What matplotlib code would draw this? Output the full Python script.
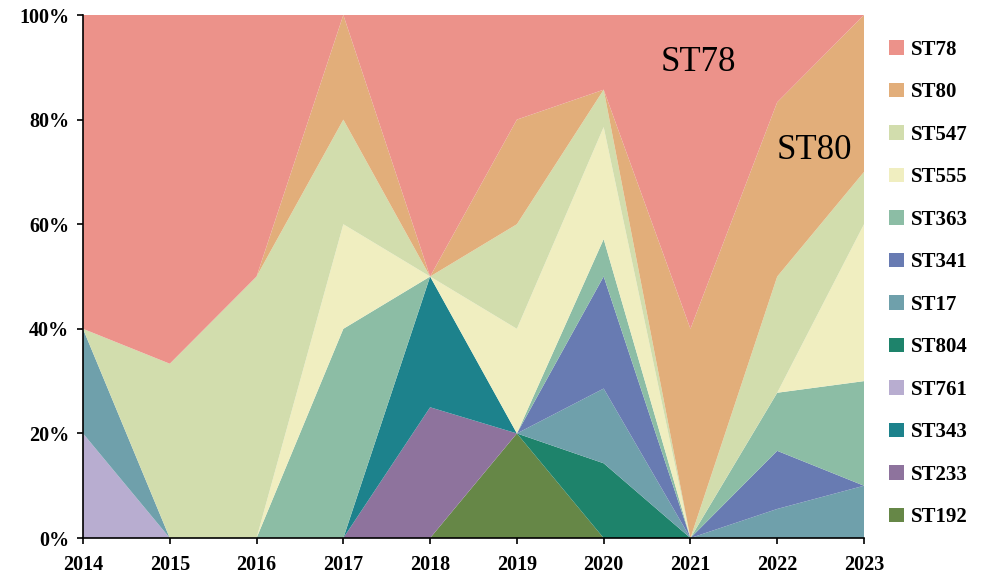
import matplotlib
matplotlib.use("Agg")
import matplotlib.pyplot as plt
import numpy as np
from matplotlib.patches import Patch

years = [2014, 2015, 2016, 2017, 2018, 2019, 2020, 2021, 2022, 2023]

# percentages per sequence type (bottom to top of the stack)
ST192 = [0, 0, 0, 0, 0, 20, 0, 0, 0, 0]
ST233 = [0, 0, 0, 0, 25, 0, 0, 0, 0, 0]
ST343 = [0, 0, 0, 0, 25, 0, 0, 0, 0, 0]
ST761 = [20, 0, 0, 0, 0, 0, 0, 0, 0, 0]
ST804 = [0, 0, 0, 0, 0, 0, 14.29, 0, 0, 0]
ST17 = [20, 0, 0, 0, 0, 0, 14.29, 0, 5.56, 10]
ST341 = [0, 0, 0, 0, 0, 0, 21.43, 0, 11.11, 0]
ST363 = [0, 0, 0, 40, 0, 0, 7.14, 0, 11.11, 20]
ST555 = [0, 0, 0, 20, 0, 20, 21.43, 0, 0, 30]
ST547 = [0, 33.33, 50, 20, 0, 20, 7.14, 0, 22.22, 10]
ST80 = [0, 0, 0, 20, 0, 20, 0, 40, 33.33, 30]
ST78 = [60, 66.67, 50, 0, 50, 20, 14.29, 60, 16.67, 0]

series_names = ["ST192", "ST233", "ST343", "ST761", "ST804", "ST17",
                "ST341", "ST363", "ST555", "ST547", "ST80", "ST78"]
series_values = [ST192, ST233, ST343, ST761, ST804, ST17,
                 ST341, ST363, ST555, ST547, ST80, ST78]
colors = ["#668747", "#8E739D", "#1D828C", "#B8ADD0", "#1E836B", "#6FA0AB",
          "#687BB2", "#8CBDA5", "#F0EEC0", "#D2DDAD", "#E2AE7A", "#EC928A"]

plt.rcParams['font.family'] = ['Liberation Serif', 'DejaVu Serif']

fig = plt.figure(figsize=(10, 5.75), dpi=100)
ax = fig.add_axes([0.083, 0.0643, 0.781, 0.9096])

ax.stackplot(years, *series_values, colors=colors, linewidth=0)

ax.set_xlim(2014, 2023)
ax.set_ylim(0, 100)
ax.set_xticks(years)
ax.set_xticklabels([str(y) for y in years], fontsize=14.5, fontweight='bold')
ax.set_yticks([0, 20, 40, 60, 80, 100])
ax.set_yticklabels([f"{v}%" for v in [0, 20, 40, 60, 80, 100]], fontsize=14.5, fontweight='bold')
for s in ['top', 'right']:
    ax.spines[s].set_visible(False)
for s in ['left', 'bottom']:
    ax.spines[s].set_linewidth(1.2)
ax.tick_params(direction='out', length=4, width=1.2)
ax.tick_params(axis='x', pad=8)
ax.tick_params(axis='y', pad=6)

ax.text(2021.09, 91, "ST78", fontsize=25, ha='center', va='center')
ax.text(2022.43, 74, "ST80", fontsize=25, ha='center', va='center')

handles = [Patch(facecolor=c, edgecolor='none') for c in colors[::-1]]
labels = series_names[::-1]
fig.legend(handles, labels, loc='upper left', bbox_to_anchor=(0.889, 0.931),
           frameon=False, borderpad=0, borderaxespad=0,
           handlelength=0.7, handleheight=0.7, handletextpad=0.35,
           labelspacing=1.08, prop={'weight': 'bold', 'size': 15})

fig.savefig("out.png", dpi=100)
